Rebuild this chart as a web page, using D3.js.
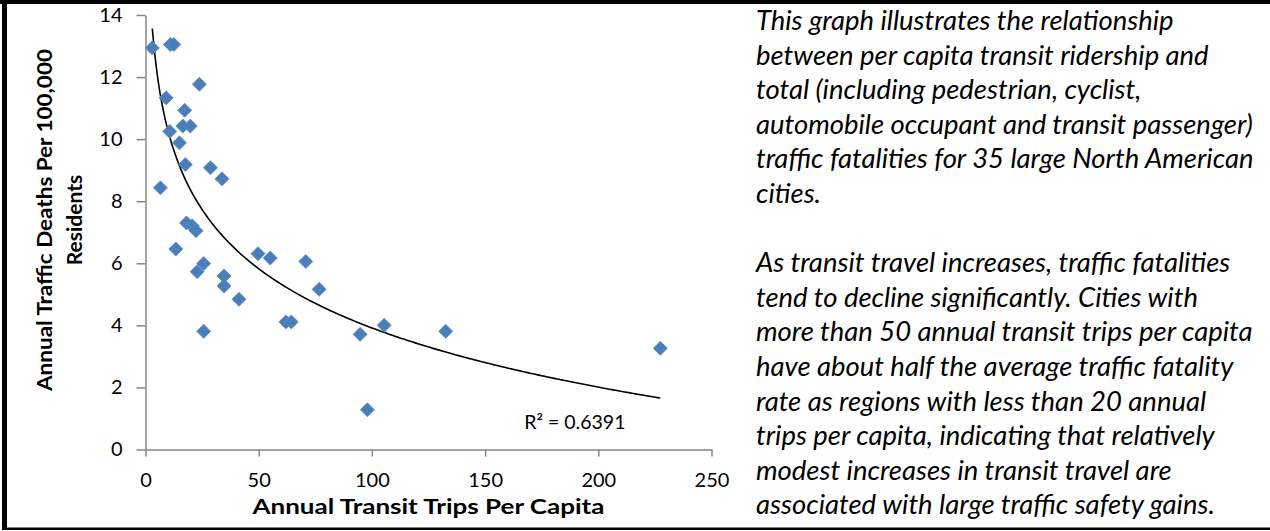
<!DOCTYPE html>
<html>
<head>
<meta charset="utf-8">
<script src="https://cdn.jsdelivr.net/npm/d3@7"></script>
<style>
    body { margin: 0; background: #fff; }
    svg { display: block; font-family: Lato, "Open Sans", sans-serif; }
    .axis path, .axis line { stroke: #868686; }
    .axis text { font-size: 20px; fill: #000; font-family: Lato, sans-serif; }
</style>
</head>
<body>
<script>
// annual transit trips per capita
let trips = [3, 11, 12.5, 23.8, 9.1, 17.3, 10.7, 16.5, 19.8, 15, 17.6, 28.7, 33.8, 6.6,
    18.1, 20.6, 22.3, 13.4, 22.8, 25.7, 34.7, 34.7, 41.3, 25.7, 49.7, 55.1, 70.8, 76.7,
    62, 64.4, 94.8, 105.4, 132.6, 227.4, 98]
// annual traffic deaths per 100,000 residents
let deaths = [12.94, 13.05, 13.05, 11.77, 11.33, 10.93, 10.25, 10.42, 10.42, 9.88, 9.18, 9.08, 8.72, 8.43,
    7.30, 7.21, 7.05, 6.46, 5.73, 5.99, 5.59, 5.27, 4.84, 3.81, 6.31, 6.17, 6.06, 5.16,
    4.11, 4.11, 3.71, 4.0, 3.81, 3.26, 1.28]
let xTicks = [0, 50, 100, 150, 200, 250]
let yTicks = [0, 2, 4, 6, 8, 10, 12, 14]
let rSquaredLabel = "R² = 0.6391"
let notes = [
    ["This graph illustrates the relationship",
     "between per capita transit ridership and",
     "total (including pedestrian, cyclist,",
     "automobile occupant and transit passenger)",
     "traffic fatalities for 35 large North American",
     "cities."],
    ["As transit travel increases, traffic fatalities",
     "tend to decline significantly. Cities with",
     "more than 50 annual transit trips per capita",
     "have about half the average traffic fatality",
     "rate as regions with less than 20 annual",
     "trips per capita, indicating that relatively",
     "modest increases in transit travel are",
     "associated with large traffic safety gains."]
]

const width = 1270
const height = 531

let svg = d3.select("body").append("svg")
    .attr("width", width)
    .attr("height", height)

let x = d3.scaleLinear().domain([0, 250]).range([145.5, 711.5])
let y = d3.scaleLinear().domain([0, 14]).range([449.5, 15])

drawFrame()
drawAxes()
drawTrend()
drawPoints()
drawNotes()

function drawFrame() {
    svg.append("rect").attr("x", 0).attr("y", 0).attr("width", width).attr("height", 4).attr("fill", "#000")
    svg.append("rect").attr("x", 2).attr("y", 0).attr("width", 5).attr("height", 530).attr("fill", "#000")
    svg.append("rect").attr("x", 2).attr("y", 527.5).attr("width", width).attr("height", 2.5).attr("fill", "#000")
}

function drawAxes() {
    let xAxis = svg.append("g").attr("class", "axis")
        .attr("transform", "translate(0," + y(0) + ")")
        .call(d3.axisBottom(x).tickValues(xTicks).tickSize(7).tickSizeOuter(0).tickPadding(16))
    let yAxis = svg.append("g").attr("class", "axis")
        .attr("transform", "translate(" + x(0) + ",0)")
        .call(d3.axisLeft(y).tickValues(yTicks).tickSize(9).tickSizeOuter(0).tickPadding(14))
    xAxis.select(".domain").attr("stroke-width", 1.5)
    yAxis.select(".domain").attr("stroke-width", 1.5)
    svg.selectAll(".axis .tick line").attr("stroke-width", 1.5)

    svg.append("text")
        .attr("x", (x(0) + x(250)) / 2)
        .attr("y", 514)
        .attr("text-anchor", "middle")
        .attr("font-weight", "bold")
        .attr("font-size", 21)
        .attr("textLength", 352)
        .attr("lengthAdjust", "spacingAndGlyphs")
        .text("Annual Transit Trips Per Capita")

    let yTitle = svg.append("text")
        .attr("transform", "translate(52,220) rotate(-90)")
        .attr("text-anchor", "middle")
        .attr("font-weight", "bold")
        .attr("font-size", 21)
    yTitle.append("tspan").attr("x", 0).attr("y", 0)
        .attr("textLength", 342).attr("lengthAdjust", "spacingAndGlyphs")
        .text("Annual Traffic Deaths Per 100,000")
    yTitle.append("tspan").attr("x", 0).attr("y", 30).text("Residents")
}

function drawTrend() {
    // logarithmic least squares fit, like the spreadsheet trendline
    let lx = trips.map(d => Math.log(d))
    let mx = d3.mean(lx)
    let my = d3.mean(deaths)
    let sxy = d3.sum(lx, (d, i) => (d - mx) * (deaths[i] - my))
    let sxx = d3.sum(lx, d => (d - mx) * (d - mx))
    let a = sxy / sxx
    let b = my - a * mx

    let xs = d3.range(200).map(i => d3.min(trips) + (d3.max(trips) - d3.min(trips)) * i / 199)
    let line = d3.line()
        .x(d => x(d))
        .y(d => y(a * Math.log(d) + b))
        .curve(d3.curveBasis)
    svg.append("path")
        .datum(xs)
        .attr("d", line)
        .attr("fill", "none")
        .attr("stroke", "#000")
        .attr("stroke-width", 1.6)

    svg.append("text")
        .attr("x", x(212))
        .attr("y", y(0.65))
        .attr("text-anchor", "end")
        .attr("font-size", 19.5)
        .text(rSquaredLabel)
}

function drawPoints() {
    let diamond = d3.symbol().type(d3.symbolSquare).size(98)
    svg.append("g").selectAll("path")
        .data(trips)
        .enter()
        .append("path")
        .attr("d", diamond)
        .attr("transform", (d, i) => "translate(" + x(d) + "," + y(deaths[i]) + ") rotate(45)")
        .attr("fill", "#4a7ebb")
        .attr("stroke", "#5b8cc8")
        .attr("stroke-width", 0.8)
}

function drawNotes() {
    let g = svg.append("g")
        .attr("font-style", "italic")
        .attr("font-size", 24)
    let lines = []
    notes.forEach((para, p) => {
        para.forEach((t, i) => lines.push({ text: t, row: p * 7 + i }))
    })
    let texts = g.selectAll("text")
        .data(lines)
        .enter()
        .append("text")
        .attr("x", 756)
        .attr("y", d => 30 + d.row * 34.6)
        .text(d => d.text)
    // size so that the second line ends where it does in the original
    let w = texts.filter((d, i) => i == 1).node().getComputedTextLength()
    g.attr("font-size", 24 * 453 / w)
}
</script>
</body>
</html>
